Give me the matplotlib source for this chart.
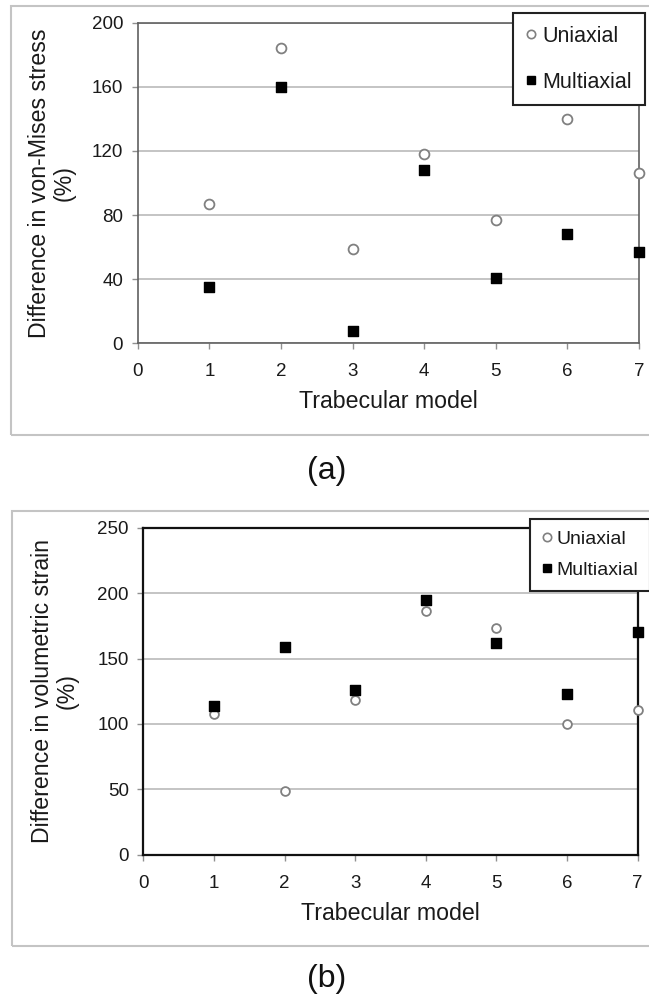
import matplotlib
matplotlib.use("Agg")
import matplotlib.pyplot as plt
from matplotlib.patches import Rectangle
from matplotlib.lines import Line2D

plt.rcParams['font.family'] = ['Liberation Sans', 'DejaVu Sans']

models = [1, 2, 3, 4, 5, 6, 7]
x_ticks = [0, 1, 2, 3, 4, 5, 6, 7]

# (a) Difference in von-Mises stress (%)
stress_uniaxial = [87, 184, 59, 118, 77, 140, 106]
stress_multiaxial = [35, 160, 7.5, 108, 41, 68, 57]
stress_yticks = [0, 40, 80, 120, 160, 200]

# (b) Difference in volumetric strain (%)
strain_uniaxial = [107.5, 49, 118, 186.5, 173, 100, 111]
strain_multiaxial = [113.5, 158.5, 126, 194.5, 162, 122.5, 170]
strain_yticks = [0, 50, 100, 150, 200, 250]

series_labels = ["Uniaxial", "Multiaxial"]
panel_labels = ["(a)", "(b)"]
xlabel = "Trabecular model"
ylabels = ["Difference in von-Mises stress\n(%)", "Difference in volumetric strain\n(%)"]

W, H = 649, 996
fig = plt.figure(figsize=(W / 100, H / 100), dpi=100)


def fx(px):
    return px / W


def fy(py):
    return 1 - py / H


# outer gray frames
for (x0, y0, x1, y1) in [(11, 6, 660, 435), (11.5, 511, 660, 946)]:
    fig.patches.append(Rectangle((fx(x0), fy(y1)), fx(x1 - x0), (y1 - y0) / H,
                                 transform=fig.transFigure, fill=False,
                                 edgecolor="#c4c4c4", lw=1.5))


def make_panel(rect, uni, multi, yticks, ylabel, ylabel_x, spine_color, spine_lw,
               msize_c, msize_s, legend_rect, legend_fs, label_spacing):
    l, t, r, b = rect
    ax = fig.add_axes([fx(l), fy(b), fx(r - l), (b - t) / H])
    ax.set_xlim(0, 7)
    ax.set_ylim(yticks[0], yticks[-1])
    ax.set_xticks(x_ticks)
    ax.set_yticks(yticks)
    ax.yaxis.grid(True, color="#b4b4b4", lw=1.1)
    ax.set_axisbelow(True)
    for s in ax.spines.values():
        s.set_color(spine_color)
        s.set_linewidth(spine_lw)
    ax.tick_params(axis="both", labelsize=13.5, colors="#909090", length=4.5,
                   width=1.0, labelcolor="#1a1a1a")
    ax.tick_params(axis="x", pad=10)
    ax.tick_params(axis="y", pad=6)
    ax.scatter(models, uni, s=msize_c, facecolors="white", edgecolors="#808080",
               linewidths=1.3, marker="o", zorder=3, clip_on=False)
    ax.scatter(models, multi, s=msize_s, color="black", marker="s", zorder=3,
               clip_on=False)
    ax.set_xlabel(xlabel, fontsize=16.7, color="#1a1a1a", labelpad=7)
    fig.text(fx(ylabel_x), fy((t + b) / 2), ylabel, rotation=90, ha="center",
             va="center", multialignment="center", fontsize=16.7, color="#1a1a1a",
             linespacing=1.1)
    handles = [
        Line2D([], [], ls="none", marker="o", mfc="white", mec="#808080", ms=6, mew=1.2),
        Line2D([], [], ls="none", marker="s", color="black", ms=6),
    ]
    lx0, ly0, lx1, ly1 = legend_rect
    leg = fig.legend(handles, series_labels, loc="center",
                     bbox_to_anchor=(fx((lx0 + lx1) / 2), fy((ly0 + ly1) / 2)),
                     fontsize=legend_fs, frameon=True, fancybox=False,
                     edgecolor="#222222", framealpha=1, handlelength=0.5,
                     handletextpad=0.25, labelspacing=label_spacing,
                     borderpad=0.6, borderaxespad=0)
    leg.get_frame().set_linewidth(1.5)
    for tx in leg.get_texts():
        tx.set_color("#1a1a1a")
    return ax


make_panel((137.7, 22.7, 639, 343.3), stress_uniaxial, stress_multiaxial,
           stress_yticks, ylabels[0], 52, "#606060", 1.2, 50, 55,
           (510.7, 14.3, 646.7, 104), 15.5, 1.15)
make_panel((143.3, 527.7, 637.7, 854.7), strain_uniaxial, strain_multiaxial,
           strain_yticks, ylabels[1], 55, "#111111", 1.6, 40, 45,
           (534, 517.7, 645.7, 591.7), 14, 0.7)

fig.text(fx(327), fy(471), panel_labels[0], ha="center", va="center",
         fontsize=23, color="#111111")
fig.text(fx(327), fy(979), panel_labels[1], ha="center", va="center",
         fontsize=23, color="#111111")

fig.savefig("out.png", dpi=100)
